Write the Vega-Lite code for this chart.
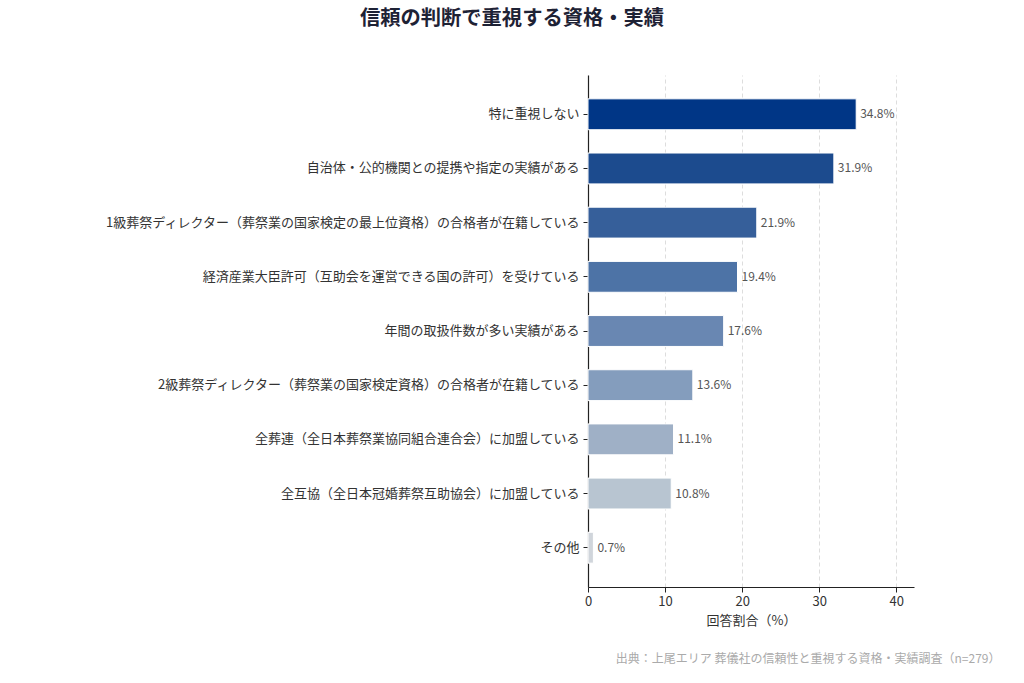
{
  "$schema": "https://vega.github.io/schema/vega-lite/v6.json",
  "autosize": {"type": "none"},
  "padding": {"left": 588, "top": 75, "right": 110, "bottom": 96},
  "width": 326,
  "height": 512,
  "background": "white",
  "title": {
    "text": "信頼の判断で重視する資格・実績",
    "font": "Noto Sans CJK JP",
    "fontSize": 20.3,
    "fontWeight": "bold",
    "color": "#1e2235",
    "anchor": "middle",
    "dx": -239,
    "offset": 46
  },
  "config": {
    "view": {"stroke": null},
    "font": "Noto Sans CJK JP"
  },
  "data": {
    "values": [
      {"item": "特に重視しない", "value": 34.8},
      {"item": "自治体・公的機関との提携や指定の実績がある", "value": 31.9},
      {"item": "1級葬祭ディレクター（葬祭業の国家検定の最上位資格）の合格者が在籍している", "value": 21.9},
      {"item": "経済産業大臣許可（互助会を運営できる国の許可）を受けている", "value": 19.4},
      {"item": "年間の取扱件数が多い実績がある", "value": 17.6},
      {"item": "2級葬祭ディレクター（葬祭業の国家検定資格）の合格者が在籍している", "value": 13.6},
      {"item": "全葬連（全日本葬祭業協同組合連合会）に加盟している", "value": 11.1},
      {"item": "全互協（全日本冠婚葬祭互助協会）に加盟している", "value": 10.8},
      {"item": "その他", "value": 0.7}
    ]
  },
  "encoding": {
    "y": {
      "field": "item",
      "type": "nominal",
      "sort": null,
      "scale": {"paddingInner": 0.43, "paddingOuter": 0.44},
      "axis": {
        "title": null,
        "labelFontSize": 13,
        "labelColor": "#333333",
        "labelPadding": 4,
        "labelLimit": 600,
        "tickColor": "#222222",
        "tickSize": 5,
        "domainColor": "#222222",
        "domainWidth": 1.2
      }
    }
  },
  "layer": [
    {
      "mark": {"type": "bar", "stroke": "white", "strokeWidth": 1},
      "encoding": {
        "x": {
          "field": "value",
          "type": "quantitative",
          "scale": {"domain": [0, 42.3], "nice": false},
          "axis": {
            "title": "回答割合（%）",
            "titleFontSize": 13,
            "titleFontWeight": "normal",
            "titleColor": "#333333",
            "titlePadding": 6,
            "values": [0, 10, 20, 30, 40],
            "labelFontSize": 13,
            "labelColor": "#333333",
            "labelPadding": 3,
            "labelFlush": false,
            "tickColor": "#222222",
            "tickSize": 5,
            "domainColor": "#222222",
            "domainWidth": 1.2,
            "grid": true,
            "gridDash": [4, 3],
            "gridColor": "#dddddd"
          }
        },
        "color": {
          "field": "item",
          "type": "nominal",
          "legend": null,
          "scale": {
            "domain": [
              "特に重視しない",
              "自治体・公的機関との提携や指定の実績がある",
              "1級葬祭ディレクター（葬祭業の国家検定の最上位資格）の合格者が在籍している",
              "経済産業大臣許可（互助会を運営できる国の許可）を受けている",
              "年間の取扱件数が多い実績がある",
              "2級葬祭ディレクター（葬祭業の国家検定資格）の合格者が在籍している",
              "全葬連（全日本葬祭業協同組合連合会）に加盟している",
              "全互協（全日本冠婚葬祭互助協会）に加盟している",
              "その他"
            ],
            "range": ["#003686", "#1c4b8e", "#365f9a", "#4d73a6", "#6987b2", "#849dbd", "#9fb0c6", "#b8c5d1", "#d0d5db"]
          }
        }
      }
    },
    {
      "mark": {
        "type": "text",
        "align": "left",
        "baseline": "middle",
        "dx": 4,
        "fontSize": 12,
        "color": "#555555",
        "text": {"expr": "format(datum.value, '.1f') + '%'"}
      },
      "encoding": {
        "x": {
          "field": "value",
          "type": "quantitative",
          "scale": {"domain": [0, 42.3], "nice": false},
          "axis": {
            "orient": "bottom",
            "title": "出典：上尾エリア 葬儀社の信頼性と重視する資格・実績調査（n=279）",
            "titleFontSize": 12,
            "titleFontWeight": "normal",
            "titleColor": "#aaaaaa",
            "titleAnchor": null,
            "titleAlign": "right",
            "titleX": 412,
            "titlePadding": 0,
            "offset": 66,
            "domain": false,
            "ticks": false,
            "labels": false,
            "grid": false
          }
        }
      }
    }
  ],
  "resolve": {"scale": {"x": "independent"}, "axis": {"x": "independent"}}
}
